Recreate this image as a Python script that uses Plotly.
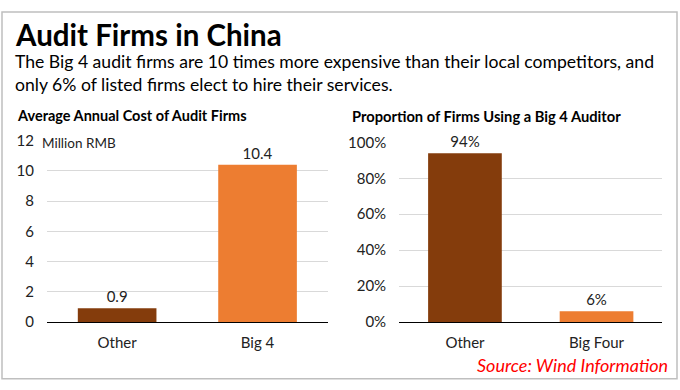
import plotly.graph_objects as go

cost_categories = ["Other", "Big 4"]
cost_values = [0.9, 10.4]
cost_labels = ["0.9", "10.4"]

share_categories = ["Other", "Big Four"]
share_values = [0.94, 0.06]
share_labels = ["94%", "6%"]

bar_colors = ["#843C0C", "#ED7D31"]
FONT = "Lato"

fig = go.Figure()
fig.add_trace(go.Bar(x=cost_categories, y=cost_values, text=cost_labels,
                     textposition="outside", cliponaxis=False,
                     textfont=dict(size=15, color="#222"),
                     marker=dict(color=bar_colors, line=dict(width=0)),
                     xaxis="x", yaxis="y", showlegend=False, hoverinfo="skip"))
fig.add_trace(go.Bar(x=share_categories, y=share_values, text=share_labels,
                     textposition="outside", cliponaxis=False,
                     textfont=dict(size=15, color="#222"),
                     marker=dict(color=bar_colors, line=dict(width=0)),
                     xaxis="x2", yaxis="y2", showlegend=False, hoverinfo="skip"))

grid = "#D9D9D9"
fig.update_layout(
    width=680, height=390,
    margin=dict(l=0, r=0, t=0, b=0),
    paper_bgcolor="white", plot_bgcolor="white",
    font=dict(family=FONT, size=15, color="#222"),
    bargap=0.44,
    xaxis=dict(domain=[0.069, 0.482], anchor="y", showline=True, linecolor="black",
               linewidth=1, ticks="", tickfont=dict(size=15, color="#222"),
               ticklabelstandoff=7),
    yaxis=dict(domain=[0.1615, 0.649], anchor="x", range=[0, 12], dtick=2,
               showgrid=True, gridcolor=grid, zeroline=False, ticks="",
               tickfont=dict(size=15, color="#222"), ticklabelstandoff=12),
    xaxis2=dict(domain=[0.587, 0.974], anchor="y2", showline=True, linecolor="black",
                linewidth=1, ticks="", tickfont=dict(size=15, color="#222"),
                ticklabelstandoff=7),
    yaxis2=dict(domain=[0.1615, 0.644], anchor="x2", range=[0, 1], dtick=0.2,
                tickformat=".0%", showgrid=True, gridcolor=grid, zeroline=False,
                ticks="", tickfont=dict(size=15, color="#222"), ticklabelstandoff=12),
    shapes=[dict(type="rect", xref="paper", yref="paper", x0=2/680, x1=677/680,
                 y0=3.5/390, y1=388/390, line=dict(color="#BFBFBF", width=1.5))],
    annotations=[
        dict(text="<b>Audit Firms in China</b>", xref="paper", yref="paper",
             x=13/680, y=1-5/390, xanchor="left", yanchor="top", showarrow=False,
             font=dict(size=29.5, color="black", family=FONT)),
        dict(text="The Big 4 audit firms are 10 times more expensive than their local competitors, and<br>only 6% of listed firms elect to hire their services.",
             xref="paper", yref="paper", x=13/680, y=1-41/390, xanchor="left", yanchor="top",
             align="left", showarrow=False, font=dict(size=17.6, color="black", family=FONT)),
        dict(text="<b>Average Annual Cost of Audit Firms</b>", xref="paper", yref="paper",
             x=15/680, y=1-100/390, xanchor="left", yanchor="top", showarrow=False,
             font=dict(size=14.5, color="black", family=FONT)),
        dict(text="<b>Proportion of Firms Using a Big 4 Auditor</b>", xref="paper", yref="paper",
             x=350/680, y=1-100/390, xanchor="left", yanchor="top", showarrow=False,
             font=dict(size=14.7, color="black", family=FONT)),
        dict(text="Million RMB", xref="paper", yref="paper",
             x=40/680, y=1-139/390, xanchor="left", yanchor="middle", showarrow=False,
             bgcolor="white", font=dict(size=13.5, color="#222", family=FONT)),
        dict(text="<i>Source: Wind Information</i>", xref="paper", yref="paper",
             x=670/680, y=1-372/390, xanchor="right", yanchor="middle", showarrow=False,
             font=dict(size=18, color="#FF0000", family=FONT)),
    ],
)

fig.write_html("out.html", config={"displayModeBar": False},
               post_script="document.body.style.margin='0';document.documentElement.style.overflow='hidden';")
